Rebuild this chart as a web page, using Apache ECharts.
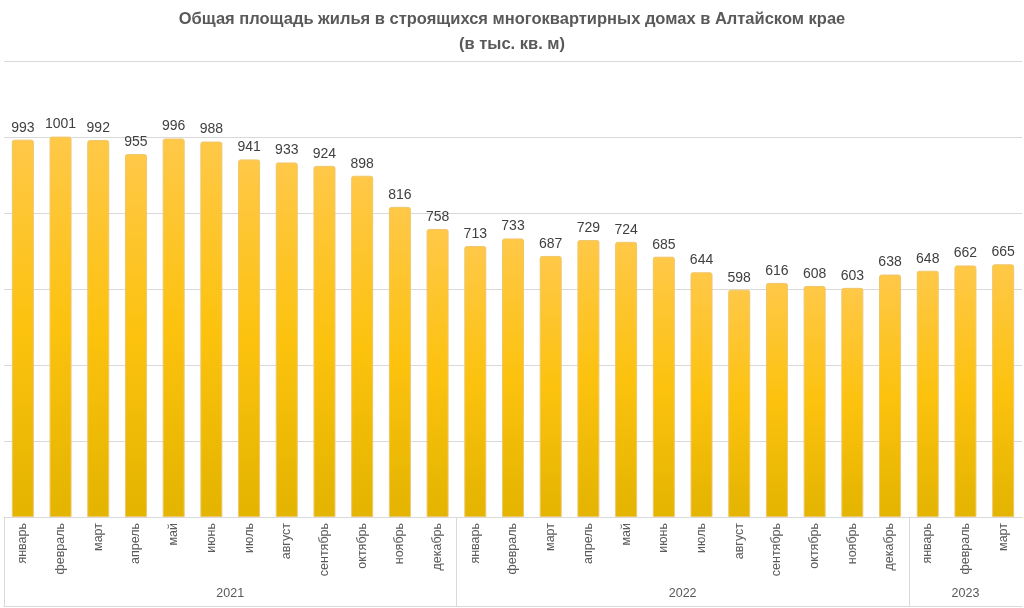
<!DOCTYPE html>
<html>
<head>
<meta charset="utf-8">
<script src="https://cdn.jsdelivr.net/npm/echarts@6/dist/echarts.min.js"></script>
<style>html,body{margin:0;padding:0;background:#fff}#c{width:1024px;height:608px}</style>
</head>
<body>
<div id="c"></div>
<script>
const months = ['январь','февраль','март','апрель','май','июнь','июль','август','сентябрь','октябрь','ноябрь','декабрь',
  'январь','февраль','март','апрель','май','июнь','июль','август','сентябрь','октябрь','ноябрь','декабрь',
  'январь','февраль','март'];
const values = [993,1001,992,955,996,988,941,933,924,898,816,758,
  713,733,687,729,724,685,644,598,616,608,603,638,
  648,662,665];
const years = ['2021','2022','2023'];
const yearStarts = [0,12,24];
const yearCenters = [6,18,25.5];
const FONT = '"Liberation Sans", Arial, sans-serif';

const chart = echarts.init(document.getElementById('c'), null, {renderer:'canvas'});
chart.setOption({
  animation:false,
  backgroundColor:'#fff',
  title:{
    text:'Общая площадь жилья в строящихся многоквартирных домах в Алтайском крае\n(в тыс. кв. м)',
    left:'center', top:2,
    textStyle:{fontFamily:FONT, fontSize:16.5, fontWeight:'bold', color:'#595959', lineHeight:25}
  },
  grid:{left:4, right:2, top:61, bottom:91, containLabel:false},
  xAxis:[{
    type:'category', data:months, position:'bottom',
    axisLine:{show:true, lineStyle:{color:'#d9d9d9'}},
    axisTick:{show:false},
    axisLabel:{rotate:90, interval:0, fontFamily:FONT, fontSize:12.5, color:'#595959', margin:6}
  },{
    type:'value', min:0, max:27, position:'bottom', offset:89,
    axisLine:{show:true, lineStyle:{color:'#d9d9d9'}},
    axisTick:{show:true, inside:true, length:89, customValues:yearStarts, lineStyle:{color:'#d9d9d9'}},
    axisLabel:{inside:true, customValues:yearCenters, margin:6, fontFamily:FONT, fontSize:12.5, color:'#595959',
      formatter:function(v){const i=yearCenters.indexOf(v);return i>=0?years[i]:'';}},
    splitLine:{show:false}
  }],
  yAxis:{
    type:'value', min:0, max:1200, interval:200,
    axisLabel:{show:false}, axisLine:{show:false}, axisTick:{show:false},
    splitLine:{lineStyle:{color:'#d9d9d9'}}
  },
  series:[{
    type:'bar', data:values, xAxisIndex:0, barWidth:22,
    itemStyle:{
      color:new echarts.graphic.LinearGradient(0,0,0,1,[{offset:0,color:'#FFC848'},{offset:0.5,color:'#FCC20E'},{offset:1,color:'#E3B400'}]),
      borderColor:'#EFC66A', borderWidth:1, borderRadius:[2,2,0,0]
    },
    label:{show:true, position:'top', distance:5, fontFamily:FONT, fontSize:14, color:'#404040'}
  }]
});
</script>
</body>
</html>
